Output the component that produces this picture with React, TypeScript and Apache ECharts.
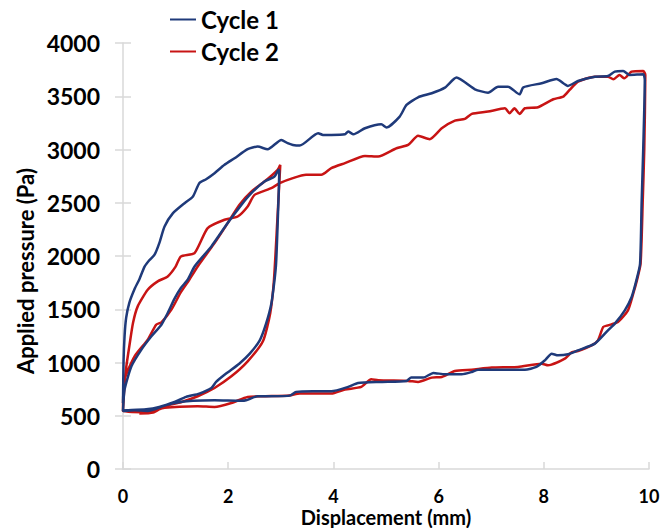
import React, { useEffect, useRef } from "react";
import * as echarts from "echarts";

const seriesNames = ["Cycle 1", "Cycle 2"];
const seriesColors = ["#1f3a7a", "#c81414"];

const xTicks = { min: 0, max: 10, interval: 2 };
const yTicks = { min: 0, max: 4000, interval: 500 };

// Cycle 1: large loop loading, unloading, then small loop loading & unloading
const cycle1: number[][] = [
  [0, 620], [0.01, 1000], [0.03, 1250], [0.06, 1420], [0.12, 1560], [0.22, 1690],
  [0.31, 1780], [0.41, 1900], [0.5, 1960], [0.6, 2012], [0.69, 2121], [0.79, 2277],
  [0.95, 2402], [1.17, 2496], [1.33, 2559], [1.45, 2684], [1.58, 2721], [1.74, 2778],
  [1.93, 2856], [2.12, 2918], [2.37, 3003], [2.56, 3027], [2.75, 3003], [3.01, 3090],
  [3.13, 3059], [3.23, 3043], [3.36, 3037], [3.71, 3153], [3.8, 3137], [3.96, 3137],
  [4.22, 3143], [4.28, 3168], [4.38, 3143], [4.6, 3200], [4.91, 3237], [5.01, 3206],
  [5.26, 3309], [5.39, 3418], [5.61, 3490], [5.87, 3528], [6.12, 3581], [6.34, 3675],
  [6.69, 3565], [6.94, 3534], [7.13, 3590], [7.32, 3590], [7.54, 3518], [7.61, 3584],
  [7.96, 3622], [8.24, 3662], [8.46, 3597], [8.65, 3643], [8.97, 3684], [9.22, 3690],
  [9.35, 3731], [9.51, 3737], [9.63, 3700], [9.89, 3706], [9.92, 3653],
  [9.89, 3000], [9.86, 2500], [9.83, 1927], [9.76, 1771], [9.67, 1615], [9.54, 1490],
  [9.35, 1365], [9.22, 1302], [8.97, 1177], [8.65, 1114], [8.46, 1077], [8.27, 1067],
  [8.15, 1083], [8.02, 1020], [7.86, 958], [7.64, 933], [7.13, 933], [6.75, 933],
  [6.63, 911], [6.44, 889], [6.12, 889], [5.9, 902], [5.71, 858], [5.48, 858],
  [5.39, 827], [4.91, 818], [4.47, 808], [4.28, 771], [3.96, 730], [3.61, 730],
  [3.29, 724], [3.17, 689], [2.6, 683], [2.56, 683], [2.34, 645], [2.25, 640],
  [1.74, 645], [1.33, 640], [0.98, 620], [0.79, 596], [0.47, 545], [0.22, 552], [0, 545],
  [0.03, 746], [0.16, 964], [0.35, 1121], [0.54, 1246], [0.73, 1355], [0.85, 1465],
  [0.98, 1600], [1.1, 1700], [1.23, 1777], [1.36, 1902], [1.68, 2090], [1.99, 2309],
  [2.25, 2480], [2.44, 2590], [2.69, 2699], [2.88, 2746], [2.96, 2809], [2.97, 2800],
  [2.94, 2300], [2.91, 1927], [2.88, 1771], [2.82, 1552], [2.72, 1365], [2.6, 1208],
  [2.41, 1083], [2.21, 989], [1.96, 896], [1.77, 818], [1.68, 760], [1.45, 708],
  [1.2, 677], [0.98, 630], [0.69, 583], [0.44, 561], [0.06, 552], [0, 550],
];

// Cycle 2
const cycle2: number[][] = [
  [0, 560], [0.03, 800], [0.06, 950], [0.12, 1152], [0.19, 1371], [0.28, 1527],
  [0.47, 1683], [0.66, 1762], [0.85, 1808], [1.0, 1900], [1.1, 1996], [1.36, 2027],
  [1.61, 2262], [1.93, 2340], [2.18, 2371], [2.37, 2465], [2.5, 2574], [2.82, 2637],
  [2.98, 2684], [3.23, 2731], [3.48, 2762], [3.77, 2762], [3.96, 2825], [4.22, 2872],
  [4.6, 2940], [4.85, 2934], [5.2, 3012], [5.42, 3043], [5.61, 3128], [5.83, 3097],
  [6.06, 3200], [6.31, 3271], [6.5, 3287], [6.63, 3334], [6.94, 3356], [7.26, 3387],
  [7.35, 3340], [7.44, 3387], [7.54, 3334], [7.64, 3387], [7.89, 3397], [8.18, 3472],
  [8.37, 3497], [8.49, 3559], [8.65, 3637], [8.97, 3684], [9.22, 3684], [9.32, 3659],
  [9.44, 3700], [9.53, 3668], [9.67, 3731], [9.89, 3737], [9.93, 3700],
  [9.91, 3000], [9.88, 2500], [9.84, 1927], [9.77, 1771], [9.7, 1646], [9.6, 1490],
  [9.41, 1380], [9.22, 1349], [9.13, 1334], [9.03, 1208], [8.91, 1161], [8.65, 1108],
  [8.53, 1096], [8.4, 1036], [8.08, 974], [7.96, 989], [7.51, 958], [7.01, 952],
  [6.63, 933], [6.31, 920], [6.06, 864], [5.87, 858], [5.61, 818], [5.42, 827],
  [4.85, 833], [4.72, 842], [4.53, 771], [4.22, 746], [3.96, 708], [3.36, 708],
  [3.16, 690], [2.69, 683], [2.37, 677], [2.06, 620], [1.74, 583], [1.42, 589],
  [0.79, 574], [0.47, 533], [0, 542],
  [0.03, 839], [0.22, 1058], [0.47, 1214], [0.63, 1355], [0.73, 1377], [0.92, 1496],
  [1.1, 1660], [1.26, 1777], [1.42, 1902], [1.74, 2121], [1.99, 2309], [2.21, 2480],
  [2.44, 2605], [2.69, 2699], [2.94, 2809], [2.99, 2856],
  [2.93, 2300], [2.87, 1777], [2.8, 1465], [2.66, 1199], [2.37, 1011], [2.06, 870],
  [1.74, 761], [1.42, 683], [1.1, 627], [0.79, 590], [0.57, 530], [0.31, 521],
];

const xTitle = "Displacement (mm)";
const yTitle = "Applied pressure (Pa)";

const FONT = "Lato, 'Open Sans', sans-serif";
const AXIS_GRAY = "#d9d9d9";

export default function App() {
  const ref = useRef<HTMLDivElement>(null);
  useEffect(() => {
    if (!ref.current) return;
    const chart = echarts.init(ref.current, undefined, { renderer: "svg" });
    chart.setOption({
      animation: false,
      backgroundColor: "#ffffff",
      textStyle: { fontFamily: FONT },
      legend: {
        data: seriesNames,
        orient: "vertical",
        left: 170,
        top: 7,
        padding: 0,
        icon: "rect",
        itemWidth: 26,
        itemHeight: 2,
        itemGap: 7,
        textStyle: { fontFamily: FONT, fontWeight: "bold", fontSize: 24, color: "#000", lineHeight: 25 },
      },
      graphic: [
        {
          type: "text",
          x: 25,
          y: 271,
          rotation: Math.PI / 2,
          style: {
            text: yTitle,
            fontFamily: FONT,
            fontWeight: "bold",
            fontSize: 22,
            fill: "#000",
            textAlign: "center",
            textVerticalAlign: "middle",
          },
        },
        {
          type: "text",
          x: 386,
          y: 517,
          style: {
            text: xTitle,
            fontFamily: FONT,
            fontWeight: "bold",
            fontSize: 20,
            lineHeight: 20,
            fill: "#000",
            textAlign: "center",
            textVerticalAlign: "middle",
          },
        },
      ],
      grid: {
        left: 123,
        right: 15,
        top: 43,
        bottom: 59,
        containLabel: false,
        outerBoundsMode: "none",
      },
      xAxis: {
        type: "value",
        min: xTicks.min,
        max: xTicks.max,
        interval: xTicks.interval,
        axisLine: { show: true, lineStyle: { color: AXIS_GRAY, width: 1.5 } },
        axisTick: { show: true, inside: true, length: 7, lineStyle: { color: AXIS_GRAY, width: 1.5 } },
        axisLabel: {
          fontFamily: FONT,
          fontWeight: "bold",
          fontSize: 18,
          lineHeight: 16,
          color: "#000",
          margin: 19,
        },
        splitLine: { show: false },
      },
      yAxis: [
        {
          type: "value",
          min: yTicks.min,
          max: yTicks.max,
          interval: yTicks.interval,
          axisLine: { show: true, lineStyle: { color: AXIS_GRAY, width: 1.5 } },
          axisTick: { show: true, inside: false, length: 8, lineStyle: { color: AXIS_GRAY, width: 1.5 } },
          axisLabel: {
            fontFamily: FONT,
            fontWeight: "bold",
            fontSize: 23,
            color: "#000",
            margin: 23,
            formatter: (v: number) => String(v),
          },
          splitLine: { show: false },
        },
        {
          type: "value",
          min: yTicks.min,
          max: yTicks.max,
          interval: yTicks.interval,
          position: "left",
          axisLine: { show: false },
          axisTick: { show: true, inside: true, length: 8, lineStyle: { color: AXIS_GRAY, width: 1.5 } },
          axisLabel: { show: false },
          splitLine: { show: false },
        },
      ],
      series: [
        {
          name: seriesNames[0],
          type: "line",
          data: cycle1,
          symbol: "none",
          smooth: 0.2,
          yAxisIndex: 0,
          lineStyle: { color: seriesColors[0], width: 2.5 },
          itemStyle: { color: seriesColors[0] },
          z: 3,
        },
        {
          name: seriesNames[1],
          type: "line",
          data: cycle2,
          symbol: "none",
          smooth: 0.2,
          yAxisIndex: 0,
          lineStyle: { color: seriesColors[1], width: 2.5 },
          itemStyle: { color: seriesColors[1] },
          z: 2,
        },
      ],
    });
    return () => chart.dispose();
  }, []);
  return (
    <div
      ref={ref}
      style={{ position: "fixed", left: 0, top: 0, width: 664, height: 528, background: "#fff" }}
    />
  );
}
